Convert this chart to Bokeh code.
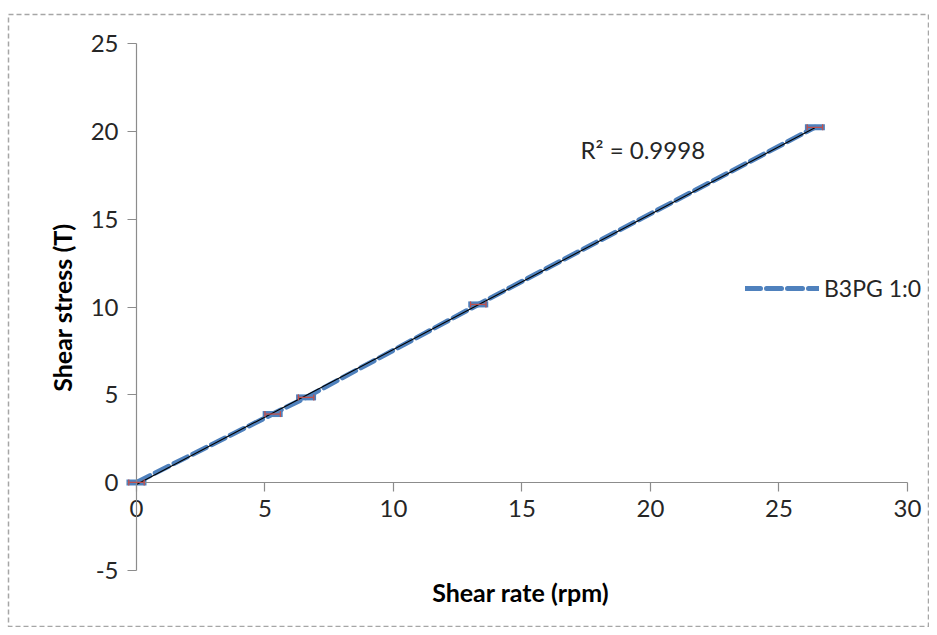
import numpy as np
from bokeh.plotting import figure
from bokeh.models import Range1d, LinearAxis, FixedTicker, Label, Legend, LegendItem, ColumnDataSource, Whisker, TeeHead
from bokeh.embed import file_html
from bokeh.resources import INLINE

# ---- data ----
shear_rate = [0.0, 5.3, 6.6, 13.3, 26.4]
shear_stress = [0.0, 3.9, 4.85, 10.15, 20.25]
x_err = [0.3, 0.3, 0.3, 0.3, 0.3]
series_name = "B3PG 1:0"
r2_text = "R\u00b2 = 0.9998"
x_ticks = [0, 5, 10, 15, 20, 25, 30]
y_ticks = [-5, 0, 5, 10, 15, 20, 25]
x_title = "Shear rate (rpm)"
y_title = "Shear stress (T)"

FONT = "Lato"
BLUE = "#4f81bd"
AXIS_GRAY = "#8c8c8c"
TEXT = "#262626"

p = figure(width=929, height=627, output_backend="svg", toolbar_location=None,
           x_range=Range1d(-4.98, 30.86), y_range=Range1d(-8.27, 26.68),
           x_axis_location=None, y_axis_location=None,
           min_border_left=8, min_border_right=0, min_border_bottom=0, min_border_top=14)
p.xgrid.visible = False
p.ygrid.visible = False
p.outline_line_color = "#a6a6a6"
p.outline_line_dash = "5 3"
p.outline_line_width = 1.5

def style_axis(ax, ticks, bounds):
    ax.ticker = FixedTicker(ticks=ticks)
    ax.fixed_location = 0
    ax.bounds = bounds
    ax.axis_line_color = AXIS_GRAY
    ax.axis_line_width = 1.2
    ax.major_tick_line_color = AXIS_GRAY
    ax.major_tick_line_width = 1.2
    ax.major_tick_out = 9
    ax.major_tick_in = 0
    ax.minor_tick_line_color = None
    ax.major_label_text_font = FONT
    ax.major_label_text_font_size = "24px"
    ax.major_label_text_color = TEXT
    ax.major_label_standoff = 9
    ax.major_label_overrides = {t: str(t) for t in ticks}

xa = LinearAxis()
style_axis(xa, x_ticks, (0, 30))
p.add_layout(xa, "below")
ya = LinearAxis()
style_axis(ya, y_ticks, (-5, 25))
p.add_layout(ya, "left")

src = ColumnDataSource(dict(x=shear_rate, y=shear_stress,
                            xl=[a - e for a, e in zip(shear_rate, x_err)],
                            xu=[a + e for a, e in zip(shear_rate, x_err)]))

line_r = p.line("x", "y", source=src, line_color=BLUE, line_width=5,
                line_dash="15 6", line_cap="round")
p.scatter("x", "y", source=src, marker="dash", size=20, line_width=6, line_color=BLUE)

# linear trendline
slope, intercept = np.polyfit(shear_rate, shear_stress, 1)
tx = [min(shear_rate), max(shear_rate)]
p.line(tx, [slope * t + intercept for t in tx], line_color="black", line_width=1.1)

p.add_layout(Whisker(source=src, base="y", lower="xl", upper="xu", dimension="width",
                     line_color="#c0504d", line_width=1.3, level="overlay",
                     lower_head=TeeHead(size=6, line_color="#c0504d", line_width=1.3),
                     upper_head=TeeHead(size=6, line_color="#c0504d", line_width=1.3)))

p.add_layout(Label(x=17.28, y=19.0, text=r2_text, text_font=FONT, text_font_size="24px",
                   text_color=TEXT, text_baseline="middle"))
p.add_layout(Label(x=14.95, y=-6.22, text=x_title, text_font=FONT, text_font_size="25px",
                   text_font_style="bold", text_color="black", text_align="center",
                   text_baseline="middle"))
p.add_layout(Label(x=-2.88, y=9.97, text=y_title, text_font=FONT, text_font_size="25px",
                   text_font_style="bold", text_color="black", text_align="center",
                   text_baseline="middle", angle=np.pi / 2))

legend = Legend(items=[LegendItem(label=series_name, renderers=[line_r])],
                location=(737, 325), orientation="vertical",
                glyph_width=74, glyph_height=20, label_standoff=5,
                label_text_font=FONT, label_text_font_size="23px", label_text_color=TEXT,
                padding=0, margin=0, border_line_color=None, background_fill_alpha=0)
p.add_layout(legend, "center")

open("out.html", "w").write(file_html(p, INLINE))
